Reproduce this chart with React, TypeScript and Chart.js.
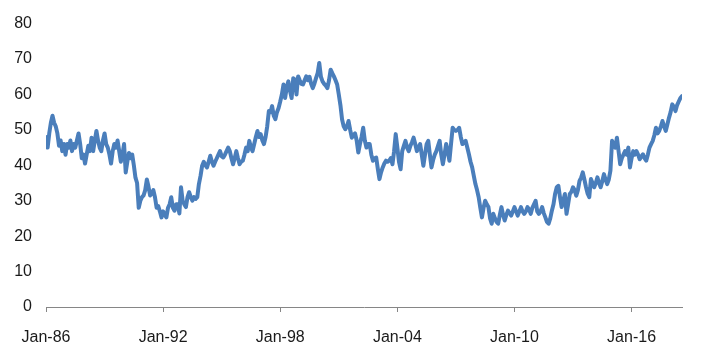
import React, { useEffect, useRef } from "react";
import { Chart, registerables } from "chart.js";

Chart.register(...registerables);

// Monthly index values, Jan-1986 .. Aug-2018 (one row per year)
const y1986 = [48, 45, 49, 52, 54, 52, 51, 49, 45.5, 47, 44, 46];
const y1987 = [43, 46, 45, 47, 44, 46, 45, 47, 49, 46, 42, 43];
const y1988 = [40.5, 43, 45.5, 44, 47.8, 44, 47, 49.7, 47, 45, 44, 47];
const y1989 = [49, 46, 45, 43, 40.5, 44, 46, 45, 47, 44, 41, 43];
const y1990 = [46, 38, 41, 43.5, 42, 43, 40, 36.5, 35, 28, 30, 31];
const y1991 = [31.5, 33, 36, 34, 31.5, 32, 33, 31, 28, 28.5, 27, 25.3];
const y1992 = [27, 26, 25.3, 28, 29, 31, 28, 27.2, 29, 29, 26.4, 33.8];
const y1993 = [30, 29, 28.2, 31, 32.4, 31, 30, 31, 30.5, 31, 34.7, 37];
const y1994 = [39.9, 41, 40, 39.4, 41, 42.7, 41, 39.9, 41, 42, 43, 44];
const y1995 = [42.5, 42.2, 43, 44, 45, 44, 42, 40.3, 42, 44, 42, 40.3];
const y1996 = [41, 41.3, 43, 45, 44, 46.9, 45, 44, 46, 48, 49.7, 48];
const y1997 = [48.8, 47, 46, 48, 51, 55.3, 55, 56.7, 54, 53, 55, 56.2];
const y1998 = [58, 60, 62.8, 59, 62, 63.7, 61, 59, 64.6, 64.2, 60, 65.1];
const y1999 = [64, 63, 62.8, 64, 65.1, 64, 65, 63, 61.8, 63, 64.6, 66];
const y2000 = [68.9, 65, 63.7, 63, 62.5, 61.8, 64, 67, 66, 65.1, 64, 62.8];
const y2001 = [60, 57, 53, 51, 50.2, 51, 52.5, 50, 47.8, 48.5, 49, 47];
const y2002 = [43.6, 46, 48, 50.6, 47, 45, 46, 46, 43, 41.3, 42, 42.2];
const y2003 = [39, 36.1, 38, 39.4, 40.5, 41.3, 41, 41.3, 42, 40.3, 44, 48.8];
const y2004 = [45, 41, 38.9, 44, 45.5, 46.9, 45, 44, 45.5, 46.5, 47.8, 46];
const y2005 = [44, 45, 46, 43, 39.9, 43, 46, 46.9, 43, 39.4, 41.5, 43];
const y2006 = [44, 45.5, 46.9, 43, 40.3, 43, 46, 44, 41.3, 46, 50.6, 50];
const y2007 = [49.7, 50, 50.6, 48, 46, 46.5, 46.9, 45, 43.1, 41, 39.4, 37];
const y2008 = [34.7, 33, 31, 28, 25.3, 28, 30, 29, 28.2, 25, 23.5, 26.3];
const y2009 = [25, 24, 23.5, 26, 28.2, 26, 24.4, 26, 27.2, 26.5, 25.8, 27];
const y2010 = [28.2, 27, 25.8, 27, 28.2, 27, 26.3, 27, 28.2, 27.5, 26.3, 28];
const y2011 = [29, 30, 27, 26.3, 27, 28.2, 26.5, 25.3, 24, 23.5, 25, 27.2];
const y2012 = [29, 32, 33.8, 34.2, 31, 28.2, 30, 31.9, 26.3, 29, 31.9, 32.5];
const y2013 = [33.8, 33, 31.4, 33, 35.6, 36.5, 38, 36, 33.8, 32, 31, 36.1];
const y2014 = [35, 33.8, 35, 36.6, 35, 33.8, 35.5, 37.5, 36, 34.7, 36, 38.5];
const y2015 = [46.9, 46, 45, 47.8, 44, 40.3, 42, 43, 44, 43, 45, 39.4];
const y2016 = [42, 44, 43, 44, 43, 41.7, 42.5, 43.1, 42, 41.3, 43, 45];
const y2017 = [46, 46.9, 48.5, 50.6, 49, 49.7, 51, 52.5, 51, 49.7, 51.5, 53.4];
const y2018 = [55, 57.2, 56.5, 55.3, 57, 58, 59, 59.5];

const seriesValues: number[] = [
  ...y1986, ...y1987, ...y1988, ...y1989, ...y1990, ...y1991, ...y1992,
  ...y1993, ...y1994, ...y1995, ...y1996, ...y1997, ...y1998, ...y1999,
  ...y2000, ...y2001, ...y2002, ...y2003, ...y2004, ...y2005, ...y2006,
  ...y2007, ...y2008, ...y2009, ...y2010, ...y2011, ...y2012, ...y2013,
  ...y2014, ...y2015, ...y2016, ...y2017, ...y2018,
];

// x tick positions (months since Jan-86) and their labels
const tickMonths = [0, 72, 144, 216, 288, 360];
const tickLabels = ["Jan-86", "Jan-92", "Jan-98", "Jan-04", "Jan-10", "Jan-16"];
const yTicks = [0, 10, 20, 30, 40, 50, 60, 70, 80];

const FONT = { family: "'Liberation Sans', Arial, sans-serif", size: 16 };

export default function App() {
  const ref = useRef<HTMLCanvasElement | null>(null);

  useEffect(() => {
    if (!ref.current) return;
    const points = seriesValues.map((v, i) => ({ x: i, y: v }));
    const chart = new Chart(ref.current, {
      type: "line",
      data: {
        datasets: [
          {
            data: points,
            borderColor: "#4a7ebb",
            borderWidth: 4,
            borderJoinStyle: "round",
            borderCapStyle: "round",
            pointRadius: 0,
            tension: 0,
            fill: false,
          },
        ],
      },
      options: {
        animation: false,
        responsive: false,
        maintainAspectRatio: false,
        layout: { padding: { top: 22, right: 24, bottom: 0, left: 0 } },
        plugins: { legend: { display: false }, tooltip: { enabled: false } },
        scales: {
          x: {
            type: "linear",
            min: 0,
            max: seriesValues.length - 1,
            afterBuildTicks: (axis: any) => {
              axis.ticks = tickMonths.map((v) => ({ value: v }));
            },
            afterFit: (scale: any) => {
              scale.height = 42;
            },
            ticks: {
              autoSkip: false,
              maxRotation: 0,
              minRotation: 0,
              padding: 16,
              color: "#1a1a1a",
              font: FONT,
              callback: (value: any) => {
                const idx = tickMonths.indexOf(Number(value));
                return idx >= 0 ? tickLabels[idx] : "";
              },
            },
            grid: {
              drawOnChartArea: false,
              drawTicks: true,
              tickLength: 5,
              color: "#868686",
            },
            border: { display: true, color: "#868686", width: 1 },
          },
          y: {
            min: 0,
            max: 80,
            afterBuildTicks: (axis: any) => {
              axis.ticks = yTicks.map((v) => ({ value: v }));
            },
            afterFit: (scale: any) => {
              scale.width = 46;
            },
            ticks: {
              padding: 14,
              color: "#1a1a1a",
              font: FONT,
            },
            grid: { display: false, drawTicks: false },
            border: { display: false },
          },
        },
      },
    });
    return () => chart.destroy();
  }, []);

  return (
    <div style={{ position: "fixed", left: 0, top: 0, width: 706, height: 349, background: "#fff" }}>
      <canvas ref={ref} width={706} height={349} style={{ width: 706, height: 349 }} />
    </div>
  );
}
